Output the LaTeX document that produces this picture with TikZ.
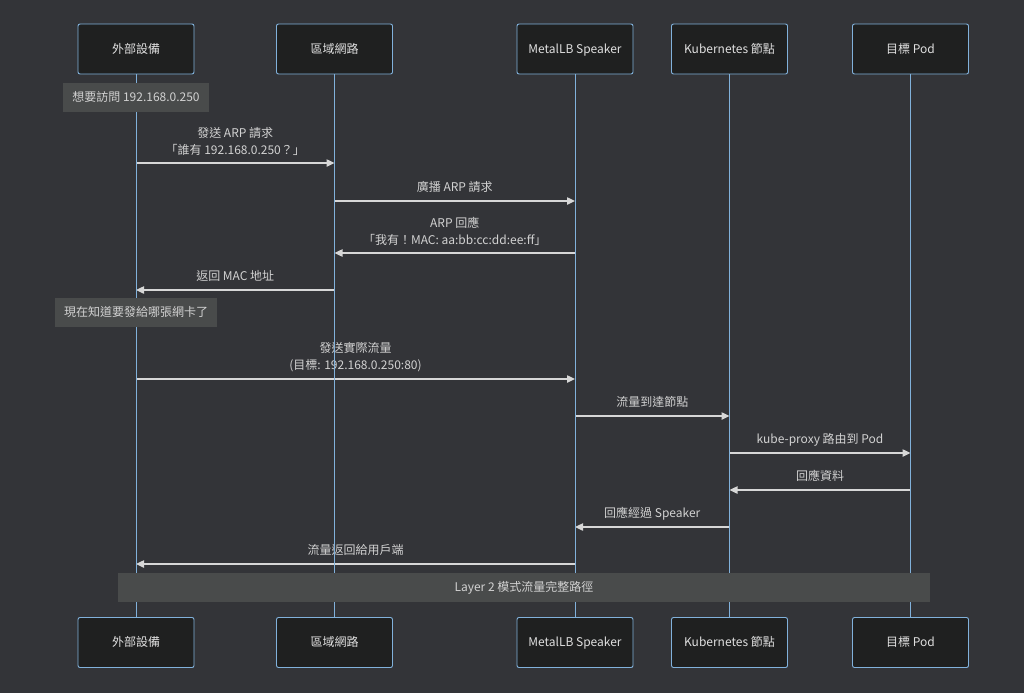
\documentclass[tikz,border=0pt]{standalone}
\usepackage{fontspec}
\setmainfont{Noto Sans CJK TC}
\usetikzlibrary{arrows.meta}
\definecolor{bgdark}{RGB}{51,52,56}
\definecolor{actorfill}{RGB}{31,32,32}
\definecolor{actorline}{RGB}{129,177,219}
\definecolor{actortext}{RGB}{224,224,224}
\definecolor{msgline}{RGB}{215,215,215}
\definecolor{msgtext}{RGB}{210,210,210}
\definecolor{notefill}{RGB}{73,75,75}
\tikzset{
  actor/.style={draw=actorline, fill=actorfill, line width=0.7pt, rounded corners=1.5pt,
    minimum width=87pt, minimum height=37.5pt, text=actortext, font=\fontsize{9}{11}\selectfont,
    text height=0.8em, text depth=0.2em},
  lifeline/.style={draw=actorline, line width=0.75pt},
  msg/.style={draw=msgline, line width=1pt, -{Triangle[length=6pt,width=5.5pt]}},
  lblbase/.style={midway, text=msgtext, font=\fontsize{9}{12.75}\selectfont, align=center, inner sep=0pt},
  lbl/.style={lblbase, yshift=10.5pt, text height=0.8em, text depth=0.2em},
  lbltwo/.style={lblbase, yshift=16.5pt},
  note/.style={fill=notefill, text=msgtext, font=\fontsize{9}{11}\selectfont, minimum height=21.75pt,
    inner sep=2pt, text height=0.8em, text depth=0.2em}
}
\begin{document}
\begin{tikzpicture}[x=0.75pt, y=-0.75pt]
  \useasboundingbox[fill=bgdark] (0,0) rectangle (1024,693);

  % participants, top and bottom
  \node[actor] (ext) at (136,49) {外部設備};
  \node[actor] (lan) at (334.5,49) {區域網路};
  \node[actor] (spk) at (575,49) {MetalLB Speaker};
  \node[actor] (k8s) at (729.5,49) {Kubernetes 節點};
  \node[actor] (pod) at (910.5,49) {目標 Pod};

  \node[actor] (ext-b) at (136,642.5) {外部設備};
  \node[actor] (lan-b) at (334.5,642.5) {區域網路};
  \node[actor] (spk-b) at (575,642.5) {MetalLB Speaker};
  \node[actor] (k8s-b) at (729.5,642.5) {Kubernetes 節點};
  \node[actor] (pod-b) at (910.5,642.5) {目標 Pod};

  % messages
  \draw[msg] (ext |- 0,163) -- (lan |- 0,163) node[lbltwo] {發送 ARP 請求\\「誰有 192.168.0.250？」};
  \draw[msg] (lan |- 0,201) -- (spk |- 0,201) node[lbl] {廣播 ARP 請求};
  \draw[msg] (spk |- 0,253) -- (lan |- 0,253) node[lbltwo] {ARP 回應\\「我有！MAC: aa:bb:cc:dd:ee:ff」};
  \draw[msg] (lan |- 0,290) -- (ext |- 0,290) node[lbl] {返回 MAC 地址};
  \draw[msg] (ext |- 0,379) -- (spk |- 0,379) node[lbltwo] {發送實際流量\\(目標: 192.168.0.250:80)};
  \draw[msg] (spk |- 0,416) -- (k8s |- 0,416) node[lbl] {流量到達節點};
  \draw[msg] (k8s |- 0,453) -- (pod |- 0,453) node[lbl] {kube-proxy 路由到 Pod};
  \draw[msg] (pod |- 0,490) -- (k8s |- 0,490) node[lbl] {回應資料};
  \draw[msg] (k8s |- 0,527) -- (spk |- 0,527) node[lbl] {回應經過 Speaker};
  \draw[msg] (spk |- 0,564) -- (ext |- 0,564) node[lbl] {流量返回給用戶端};

  % lifelines
  \foreach \p in {ext,lan,spk,k8s,pod}
    \draw[lifeline] (\p.south) -- (\p-b.north);

  % notes
  \node[note, minimum width=109.5pt] (note-ask) at (136,97.5) {想要訪問 192.168.0.250};
  \node[note, minimum width=121.5pt] (note-know) at (136,312.5) {現在知道要發給哪張網卡了};
  \node[note, minimum width=609pt] (note-path) at (524,587.5) {Layer 2 模式流量完整路徑};
\end{tikzpicture}
\end{document}
